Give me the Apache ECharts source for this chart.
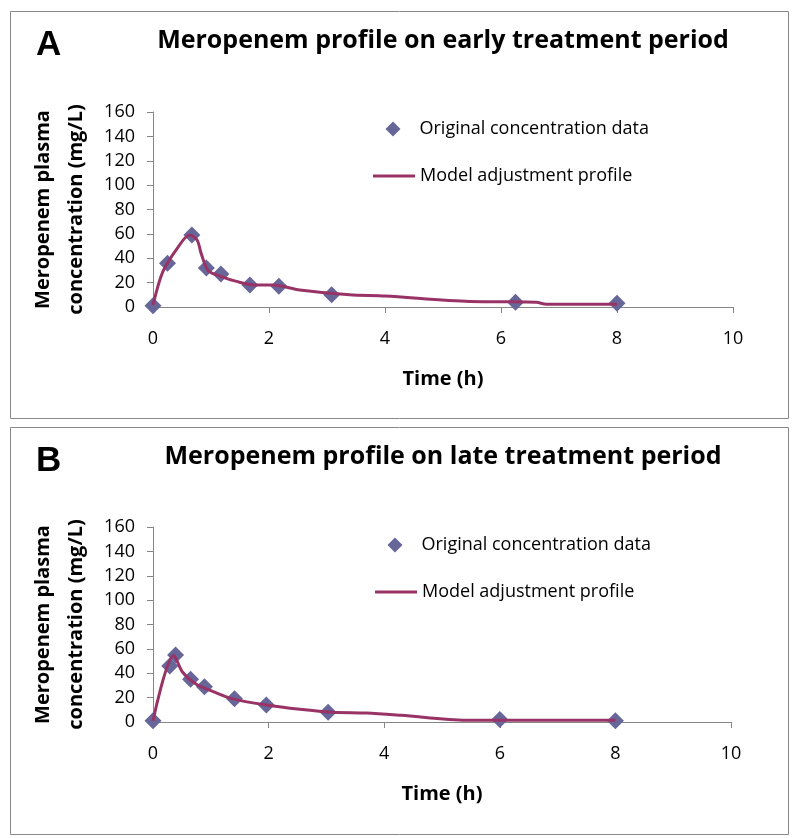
<!DOCTYPE html>
<html>
<head>
<meta charset="utf-8">
<title>Meropenem profiles</title>
<script src="https://cdn.jsdelivr.net/npm/echarts@6/dist/echarts.min.js"></script>
<style>
  html, body { margin: 0; padding: 0; background: #fff; }
  #chart { width: 794px; height: 838px; }
</style>
</head>
<body>
<div id="chart"></div>
<script>
// early treatment period (panel A)
let earlyObserved = [
  [0, 1], [0.25, 36], [0.67, 59], [0.92, 32], [1.17, 27],
  [1.67, 18], [2.17, 17], [3.08, 10], [6.25, 4], [8, 3]
];
let earlyModel = [
  [0, 1.5], [0.17, 29], [0.43, 49], [0.63, 59], [0.76, 55], [0.83, 44],
  [0.95, 30], [1.18, 25], [1.44, 21], [1.75, 18], [2.07, 18], [2.53, 14],
  [3.39, 10], [4, 9], [5.46, 4.5], [6, 4.3], [6.61, 3.8], [6.78, 2.3], [8, 2.3]
];
// late treatment period (panel B)
let lateObserved = [
  [0, 1], [0.29, 46], [0.39, 55], [0.65, 35], [0.89, 29],
  [1.41, 19], [1.96, 14], [3.03, 8], [6, 2], [8, 1]
];
let lateModel = [
  [0, 1], [0.36, 54.5], [0.51, 41], [0.75, 31], [1.04, 25], [1.38, 19],
  [1.96, 14], [2.54, 10.5], [3.11, 8], [3.69, 7.4], [4.3, 5.5], [5.42, 1.5], [8, 1.5]
];
let xTicks = { min: 0, max: 10, interval: 2 };
let yTicks = { min: 0, max: 160, interval: 20 };

let titles = ['Meropenem profile on early treatment period', 'Meropenem profile on late treatment period'];
let panelLetters = ['A', 'B'];
let seriesNames = ['Original concentration data', 'Model adjustment profile'];

let font = 'Open Sans';
let dotColor = '#666699';
let lineColor = '#993366';
let axisGrey = '#868686';

let panels = [
  { top: 9, height: 407, gridTop: 112, gridLeft: 153, gridWidth: 580, dotX: 393, dotY: 128, lineX: 373, lineY: 175 },
  { top: 425, height: 407, gridTop: 527, gridLeft: 153, gridWidth: 578, dotX: 395, dotY: 544, lineX: 375, lineY: 591 }
];

function xAxisFor(i) {
  return {
    gridIndex: i, type: 'value', min: xTicks.min, max: xTicks.max, interval: xTicks.interval,
    name: 'Time (h)', nameLocation: 'middle', nameGap: 62,
    nameTextStyle: { fontFamily: font, fontWeight: 'bold', fontSize: 20, color: '#000' },
    axisLine: { lineStyle: { color: axisGrey, width: 1 } },
    axisTick: { show: true, length: 6, lineStyle: { color: axisGrey } },
    axisLabel: { fontFamily: font, fontSize: 18, color: '#000', margin: 23 },
    splitLine: { show: false }
  };
}

function yAxisFor(i) {
  return {
    gridIndex: i, type: 'value', min: yTicks.min, max: yTicks.max, interval: yTicks.interval,
    name: 'Meropenem plasma\nconcentration (mg/L)', nameLocation: 'middle', nameGap: 49,
    nameTextStyle: { fontFamily: font, fontWeight: 'bold', fontSize: 20, color: '#000', lineHeight: 33 },
    axisLine: { show: true, lineStyle: { color: axisGrey, width: 1 } },
    axisTick: { show: true, length: 6, lineStyle: { color: axisGrey } },
    axisLabel: { fontFamily: font, fontSize: 18, color: '#000', margin: 18 },
    splitLine: { show: false }
  };
}

let datasets = [[earlyObserved, earlyModel], [lateObserved, lateModel]];
let series = [];
datasets.forEach(function(pair, i) {
  series.push({
    name: seriesNames[0] + (i ? ' ' : ''), type: 'scatter', xAxisIndex: i, yAxisIndex: i,
    data: pair[0], symbol: 'diamond', symbolSize: 17, z: 2,
    itemStyle: { color: dotColor, opacity: 1 }
  });
  series.push({
    name: seriesNames[1] + (i ? ' ' : ''), type: 'line', xAxisIndex: i, yAxisIndex: i,
    data: pair[1], smooth: 0.3, showSymbol: false, z: 3,
    lineStyle: { color: lineColor, width: 3 }, itemStyle: { color: lineColor }
  });
});

// one legend per entry so the diamond and the line keep their own sizes
let legends = [];
panels.forEach(function(p, i) {
  let suffix = i ? ' ' : '';
  let text = { fontFamily: font, fontSize: 18, color: '#000' };
  legends.push({
    left: p.dotX - 7.5, top: p.dotY - 8, padding: 0, itemWidth: 15, itemHeight: 15,
    textStyle: Object.assign({ padding: [0, 0, 0, 14] }, text),
    data: [{ name: seriesNames[0] + suffix, icon: 'diamond' }]
  });
  legends.push({
    left: p.lineX, top: p.lineY - 8, padding: 0, itemWidth: 42, itemHeight: 3,
    textStyle: text,
    data: [{ name: seriesNames[1] + suffix, icon: 'rect' }]
  });
});

let graphics = [];
panels.forEach(function(p) {
  graphics.push({
    type: 'rect', left: 8, top: p.top, shape: { width: 778, height: p.height },
    style: { fill: 'none', stroke: '#888', lineWidth: 1 }, silent: true
  });
});

let option = {
  animation: false,
  backgroundColor: '#fff',
  title: panels.map(function(p, i) {
    return [{
      text: titles[i], left: 438, top: p.top + 14, textAlign: 'center',
      textStyle: { fontFamily: font, fontWeight: 'bold', fontSize: 25, color: '#000' }
    }, {
      text: panelLetters[i], left: 31, top: p.top + 14,
      textStyle: { fontFamily: 'Liberation Sans', fontWeight: 'bold', fontSize: 35, color: '#000' }
    }];
  }).flat(),
  legend: legends,
  grid: panels.map(function(p) {
    return { left: p.gridLeft, top: p.gridTop, width: p.gridWidth, height: 195, containLabel: false };
  }),
  xAxis: [xAxisFor(0), xAxisFor(1)],
  yAxis: [yAxisFor(0), yAxisFor(1)],
  series: series,
  graphic: graphics
};

let chart = echarts.init(document.getElementById('chart'), null, { renderer: 'canvas' });
chart.setOption(option);
</script>
</body>
</html>
